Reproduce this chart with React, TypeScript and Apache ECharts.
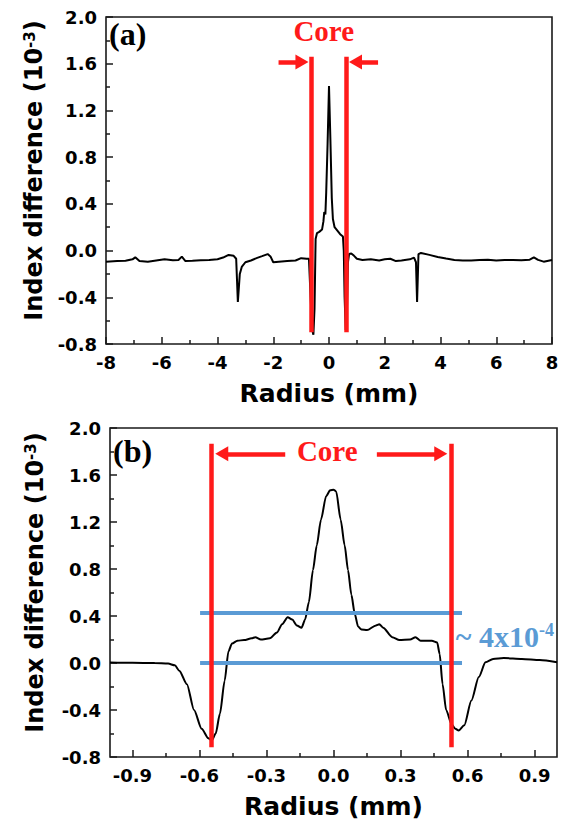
import React, { useEffect, useRef } from "react";
import * as echarts from "echarts";

// ---------- Panel (a) data ----------
const RADIUS_A = [
  -8.0, -7.6, -7.3, -7.05, -6.95, -6.8, -6.5, -6.2, -5.9, -5.6, -5.4, -5.28, -5.15, -4.9, -4.6, -4.3, -4.0,
  -3.8, -3.6, -3.42, -3.33, -3.27, -3.2, -3.13, -3.0, -2.8, -2.6, -2.4, -2.2, -2.1, -2.0, -1.8, -1.5, -1.2,
  -1.0, -0.8, -0.72, -0.66, -0.6, -0.56, -0.52, -0.48, -0.43, -0.35, -0.25, -0.2, -0.17, -0.13, -0.1, -0.05,
  0.0, 0.05, 0.1, 0.14, 0.2, 0.3, 0.4, 0.5, 0.53, 0.56, 0.6, 0.64, 0.68, 0.72, 0.8, 0.9, 1.0, 1.2, 1.5, 1.8,
  2.0, 2.2, 2.4, 2.6, 2.9, 3.05, 3.12, 3.16, 3.21, 3.3, 3.6, 3.9, 4.2, 4.5, 4.8, 5.1, 5.4, 5.7, 6.0, 6.3,
  6.6, 6.9, 7.2, 7.35, 7.5, 7.7, 8.0,
];
const INDEX_A = [
  -0.095, -0.09, -0.088, -0.075, -0.058, -0.09, -0.095, -0.085, -0.075, -0.082, -0.08, -0.052, -0.09, -0.088,
  -0.082, -0.08, -0.074, -0.06, -0.037, -0.045, -0.07, -0.44, -0.2, -0.14, -0.1, -0.085, -0.065, -0.048,
  -0.03, -0.05, -0.1, -0.095, -0.09, -0.085, -0.065, -0.07, -0.07, -0.4, -0.68, -0.72, -0.5, 0.1, 0.15,
  0.16, 0.18, 0.25, 0.33, 0.31, 0.5, 0.92, 1.41, 0.95, 0.45, 0.27, 0.2, 0.17, 0.14, 0.12, 0.0, -0.4, -0.68,
  -0.55, -0.1, -0.03, -0.025, -0.045, -0.07, -0.08, -0.075, -0.085, -0.075, -0.07, -0.09, -0.085, -0.075,
  -0.06, -0.1, -0.44, -0.03, -0.02, -0.037, -0.055, -0.068, -0.08, -0.085, -0.085, -0.08, -0.078, -0.085,
  -0.08, -0.08, -0.082, -0.078, -0.058, -0.08, -0.095, -0.08,
];

// ---------- Panel (b) data ----------
const RADIUS_B = [
  -1.0, -0.9, -0.8, -0.74, -0.71, -0.69, -0.656, -0.624, -0.59, -0.56, -0.545, -0.527, -0.508, -0.487, -0.47,
  -0.454, -0.43, -0.4, -0.366, -0.35, -0.325, -0.285, -0.253, -0.23, -0.205, -0.185, -0.164, -0.143, -0.127,
  -0.11, -0.092, -0.075, -0.056, -0.033, -0.015, 0.0, 0.012, 0.032, 0.05, 0.065, 0.08, 0.095, 0.11, 0.125,
  0.15, 0.19, 0.205, 0.222, 0.263, 0.295, 0.343, 0.367, 0.39, 0.44, 0.464, 0.475, 0.488, 0.504, 0.528, 0.545,
  0.56, 0.585, 0.617, 0.65, 0.68, 0.714, 0.762, 0.843, 0.923, 1.0,
];
const INDEX_B = [
  0.005, 0.002, 0.0, -0.005, -0.02, -0.065, -0.18, -0.4, -0.56, -0.64, -0.66, -0.6, -0.43, -0.15, 0.1,
  0.166, 0.19, 0.195, 0.21, 0.22, 0.2, 0.21, 0.26, 0.33, 0.39, 0.37, 0.32, 0.3, 0.37, 0.52, 0.79, 1.0, 1.22,
  1.42, 1.47, 1.475, 1.46, 1.22, 1.0, 0.79, 0.58, 0.42, 0.31, 0.285, 0.28, 0.32, 0.33, 0.3, 0.22, 0.195, 0.2,
  0.22, 0.19, 0.19, 0.175, 0.076, -0.18, -0.4, -0.52, -0.56, -0.575, -0.53, -0.32, -0.12, 0.006, 0.034,
  0.042, 0.034, 0.025, 0.006,
];

// ---------- Axis ticks ----------
const X_LABELS_B = [-0.9, -0.6, -0.3, 0.0, 0.3, 0.6, 0.9];
const X_MINOR_B = [-0.75, -0.45, -0.15, 0.15, 0.45, 0.75];

// ---------- Annotations (data units) ----------
const CORE_A_X = [-0.64, 0.61];
const CORE_A_Y = [-0.7, 1.66];
const ARROW_A_Y = 1.614;
const ARROW_A_LEFT = [-1.81, -0.97];
const ARROW_A_RIGHT = [1.76, 0.95];
const CORE_A_LABEL = [-0.19, 1.877];

const CORE_B_X = [-0.547, 0.527];
const CORE_B_Y = [-0.717, 1.866];
const ARROW_B_Y = 1.78;
const ARROW_B_LEFT = [-0.216, -0.5];
const ARROW_B_RIGHT = [0.194, 0.48];
const CORE_B_LABEL = [-0.028, 1.806];
const BLUE_LEVELS = [0.43, 0.005];
const BLUE_X = [-0.597, 0.575];
const BLUE_LABEL = [0.545, 0.228];

const RED = "#ff1a1a";
const BLUE = "#5b9bd5";
const SANS = "DejaVu Sans";
const SERIF = "Liberation Serif";

const fmt1 = (v: number) => (Math.abs(v) < 1e-9 ? "0.0" : v.toFixed(1));

const tickLabel = {
  fontFamily: SANS,
  fontWeight: "bold" as const,
  fontSize: 18,
  color: "#000",
};
const titleStyle = {
  fontFamily: SANS,
  fontWeight: "bold" as const,
  fontSize: 25,
  color: "#000",
};
const yTitleStyle = {
  fontFamily: SANS,
  fontWeight: "bold" as const,
  fontSize: 24,
  color: "#000",
  padding: [0, 0, 0, 20],
  rich: {
    sup: {
      fontFamily: SANS,
      fontWeight: "bold" as const,
      fontSize: 15,
      verticalAlign: "top" as const,
      color: "#000",
    },
  },
};
const tickLine = { color: "#1a1a1a", width: 1.5 };
const hiddenLine = { show: false, onZero: false };

function redLine(x: number, y: number[]) {
  return [
    { coord: [x, y[0]], symbol: "none", lineStyle: { color: RED, width: 4.5, type: "solid" } },
    { coord: [x, y[1]], symbol: "none" },
  ];
}
function arrow(xs: number[], y: number) {
  return [
    { coord: [xs[0], y], symbol: "none", lineStyle: { color: RED, width: 4.5, type: "solid" } },
    { coord: [xs[1], y], symbol: "triangle", symbolSize: [15, 13] },
  ];
}
function blueLine(y: number) {
  return [
    { coord: [BLUE_X[0], y], symbol: "none", lineStyle: { color: BLUE, width: 4, type: "solid" } },
    { coord: [BLUE_X[1], y], symbol: "none" },
  ];
}

export default function App() {
  const ref = useRef<HTMLDivElement>(null);
  useEffect(() => {
    if (!ref.current) return;
    const chart = echarts.init(ref.current, undefined, { renderer: "svg" });
    const yAxisBase = (gridIndex: number, gap: number) => ({
      type: "value",
      gridIndex,
      min: -0.8,
      max: 2.0,
      interval: 0.4,
      axisLine: hiddenLine,
      axisTick: { show: true, inside: true, length: 7, lineStyle: tickLine },
      minorTick: { show: true, splitNumber: 2, length: 4, lineStyle: tickLine },
      splitLine: { show: false },
      minorSplitLine: { show: false },
      axisLabel: { ...tickLabel, margin: 9, formatter: (v: number) => fmt1(v) },
      name: "Index difference (10{sup|-3})",
      nameLocation: "middle",
      nameRotate: 90,
      nameGap: gap,
      nameTextStyle: yTitleStyle,
    });

    chart.setOption({
      animation: false,
      backgroundColor: "#ffffff",
      grid: [
        { left: 106, top: 17, width: 446, height: 327, show: true, borderColor: "#1a1a1a", borderWidth: 1.6, backgroundColor: "transparent" },
        { left: 110, top: 428, width: 447, height: 329, show: true, borderColor: "#1a1a1a", borderWidth: 1.6, backgroundColor: "transparent" },
      ],
      xAxis: [
        {
          type: "value",
          gridIndex: 0,
          min: -8,
          max: 8,
          interval: 2,
          axisLine: hiddenLine,
          axisTick: { show: true, inside: true, length: 7, lineStyle: tickLine },
          minorTick: { show: true, splitNumber: 2, length: 4, lineStyle: tickLine },
          splitLine: { show: false },
          minorSplitLine: { show: false },
          axisLabel: { ...tickLabel, margin: 9 },
          name: "Radius (mm)",
          nameLocation: "middle",
          nameGap: 37,
          nameTextStyle: titleStyle,
        },
        {
          type: "value",
          gridIndex: 1,
          min: -1,
          max: 1,
          position: "bottom",
          axisLine: hiddenLine,
          axisTick: { show: true, inside: true, length: 7, lineStyle: tickLine, customValues: X_LABELS_B },
          splitLine: { show: false },
          axisLabel: { ...tickLabel, margin: 9, customValues: X_LABELS_B, formatter: (v: number) => fmt1(v) },
          name: "Radius (mm)",
          nameLocation: "middle",
          nameGap: 37,
          nameTextStyle: titleStyle,
        },
        {
          type: "value",
          gridIndex: 1,
          min: -1,
          max: 1,
          position: "bottom",
          axisLine: hiddenLine,
          axisTick: { show: true, inside: true, length: 4, lineStyle: tickLine, customValues: X_MINOR_B },
          axisLabel: { show: false },
          splitLine: { show: false },
        },
      ],
      yAxis: [yAxisBase(0, 60), yAxisBase(1, 63)],
      series: [
        {
          type: "line",
          xAxisIndex: 0,
          yAxisIndex: 0,
          data: RADIUS_A.map((x, i) => [x, INDEX_A[i]]),
          showSymbol: false,
          symbol: "none",
          lineStyle: { color: "#000", width: 2 },
          z: 2,
          markLine: {
            silent: true,
            label: { show: false },
            emphasis: { disabled: true },
            lineStyle: { color: RED, width: 4.5, type: "solid" },
            itemStyle: { color: RED },
            data: [
              redLine(CORE_A_X[0], CORE_A_Y),
              redLine(CORE_A_X[1], CORE_A_Y),
              arrow(ARROW_A_LEFT, ARROW_A_Y),
              arrow(ARROW_A_RIGHT, ARROW_A_Y),
            ],
          },
          markPoint: {
            silent: true,
            symbol: "circle",
            symbolSize: 1,
            itemStyle: { color: "rgba(0,0,0,0)" },
            label: {
              show: true,
              position: "inside",
              formatter: "Core",
              color: RED,
              fontFamily: SERIF,
              fontWeight: "bold",
              fontSize: 29,
            },
            data: [{ coord: CORE_A_LABEL }],
          },
        },
        {
          type: "line",
          xAxisIndex: 1,
          yAxisIndex: 1,
          data: RADIUS_B.map((x, i) => [x, INDEX_B[i]]),
          showSymbol: false,
          symbol: "none",
          smooth: 0.25,
          smoothMonotone: "x",
          lineStyle: { color: "#000", width: 2 },
          z: 2,
          markLine: {
            silent: true,
            label: { show: false },
            emphasis: { disabled: true },
            lineStyle: { color: RED, width: 4.5, type: "solid" },
            itemStyle: { color: RED },
            data: [
              blueLine(BLUE_LEVELS[0]),
              blueLine(BLUE_LEVELS[1]),
              redLine(CORE_B_X[0], CORE_B_Y),
              redLine(CORE_B_X[1], CORE_B_Y),
              arrow(ARROW_B_LEFT, ARROW_B_Y),
              arrow(ARROW_B_RIGHT, ARROW_B_Y),
            ],
          },
          markPoint: {
            silent: true,
            symbol: "circle",
            symbolSize: 1,
            itemStyle: { color: "rgba(0,0,0,0)" },
            label: {
              show: true,
              position: "inside",
              color: RED,
              fontFamily: SERIF,
              fontWeight: "bold",
              fontSize: 29,
            },
            data: [
              { coord: CORE_B_LABEL, label: { formatter: "Core" } },
              {
                coord: BLUE_LABEL,
                label: {
                  position: "right",
                  distance: 0,
                  formatter: "~ 4x10{sup|-4}",
                  color: BLUE,
                  fontFamily: SERIF,
                  fontWeight: "bold",
                  fontSize: 30,
                  rich: {
                    sup: {
                      color: BLUE,
                      fontFamily: SERIF,
                      fontWeight: "bold",
                      fontSize: 18,
                      verticalAlign: "top",
                    },
                  },
                },
              },
            ],
          },
        },
      ],
      graphic: [
        {
          type: "text",
          left: 109,
          top: 18,
          style: { text: "(a)", fontFamily: SERIF, fontWeight: "bold", fontSize: 32, fill: "#000" },
        },
        {
          type: "text",
          left: 113,
          top: 435,
          style: { text: "(b)", fontFamily: SERIF, fontWeight: "bold", fontSize: 32, fill: "#000" },
        },
      ],
    });
    return () => chart.dispose();
  }, []);
  return (
    <div
      ref={ref}
      style={{ position: "absolute", left: 0, top: 0, width: 565, height: 824, background: "#fff" }}
    />
  );
}
